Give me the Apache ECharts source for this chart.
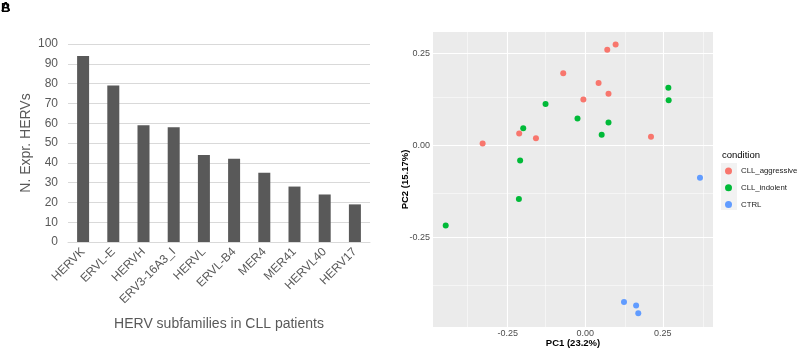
<!DOCTYPE html>
<html><head><meta charset="utf-8">
<script src="https://cdn.jsdelivr.net/npm/echarts@6/dist/echarts.min.js"></script>
<style>html,body{margin:0;padding:0;background:#fff}#c{width:798px;height:349px}</style>
</head><body><div id="c"></div>
<script>
// Panel A: bar chart
const barCategories = ['HERVK','ERVL-E','HERVH','ERV3-16A3_I','HERVL','ERVL-B4','MER4','MER41','HERVL40','HERV17'];
const barValues = [94, 79, 59, 58, 44, 42, 35, 28, 24, 19];
const barTicks = [0,10,20,30,40,50,60,70,80,90,100];

// Panel B: PCA scatter [PC1, PC2]
const cllAggressive = [[-0.331,0.005],[-0.213,0.032],[-0.159,0.019],[-0.071,0.195],[-0.006,0.124],[0.043,0.169],[0.075,0.140],[0.071,0.259],[0.098,0.273],[0.212,0.023]];
const cllIndolent = [[-0.128,0.112],[-0.200,0.046],[-0.025,0.073],[0.075,0.062],[0.053,0.029],[-0.210,-0.041],[-0.214,-0.145],[-0.450,-0.217],[0.268,0.156],[0.269,0.122]];
const ctrl = [[0.370,-0.088],[0.125,-0.424],[0.164,-0.434],[0.171,-0.455]];
const pcMajorTicks = [-0.25, 0, 0.25];
const pcMinorX = [-0.375, -0.125, 0.125, 0.375];
const pcMinorY = [-0.375, -0.125, 0.125];

const chart = echarts.init(document.getElementById('c'), null, {renderer:'canvas'});
const F = 'Liberation Sans, Arial, sans-serif';
const gridLines = [];
pcMajorTicks.forEach(v => { gridLines.push({xAxis: v, lineStyle:{width:1.1}}); gridLines.push({yAxis: v, lineStyle:{width:1.1}}); });
pcMinorX.forEach(v => gridLines.push({xAxis: v, lineStyle:{width:0.5}}));
pcMinorY.forEach(v => gridLines.push({yAxis: v, lineStyle:{width:0.5}}));

chart.setOption({
  animation: false,
  textStyle: {fontFamily: F},
  grid: [
    {left: 68, top: 44, width: 302, height: 198, outerBoundsMode: 'none', containLabel: false},
    {left: 433, top: 32, width: 280, height: 295, backgroundColor: '#EBEBEB', show: true, borderWidth: 0, outerBoundsMode: 'none', containLabel: false}
  ],
  xAxis: [
    {gridIndex: 0, type: 'category', data: barCategories,
     axisLine: {lineStyle: {color: '#d9d9d9'}}, axisTick: {show: false},
     axisLabel: {rotate: 45, color: '#595959', fontSize: 12, margin: 8, interval: 0},
     name: 'HERV subfamilies in CLL patients', nameLocation: 'middle', nameGap: 75, nameMoveOverlap: false,
     nameTextStyle: {color: '#595959', fontSize: 14}},
    {gridIndex: 1, type: 'value', min: -0.491, max: 0.412,
     axisLine: {show: false}, splitLine: {show: false},
     axisTick: {show: true, length: 2.5, customValues: pcMajorTicks, lineStyle: {color: '#333333'}},
     axisLabel: {customValues: pcMajorTicks, color: '#4D4D4D', fontSize: 9, margin: 2.5, formatter: v => v.toFixed(2)},
     name: 'PC1 (23.2%)', nameLocation: 'middle', nameGap: 11.5, nameMoveOverlap: false,
     nameTextStyle: {color: '#000', fontSize: 9.5, fontWeight: 'bold'}}
  ],
  yAxis: [
    {gridIndex: 0, type: 'value', min: 0, max: 100, interval: 10,
     axisLine: {show: false}, axisTick: {show: false},
     splitLine: {lineStyle: {color: '#d9d9d9'}},
     axisLabel: {color: '#595959', fontSize: 12, margin: 10},
     name: 'N. Expr. HERVs', nameLocation: 'middle', nameGap: 35, nameMoveOverlap: false,
     nameTextStyle: {color: '#595959', fontSize: 14}},
    {gridIndex: 1, type: 'value', min: -0.492, max: 0.307,
     axisLine: {show: false}, splitLine: {show: false},
     axisTick: {show: true, length: 2.5, customValues: pcMajorTicks, lineStyle: {color: '#333333'}},
     axisLabel: {customValues: pcMajorTicks, color: '#4D4D4D', fontSize: 9, margin: 3, formatter: v => v.toFixed(2)},
     name: 'PC2 (15.17%)', nameLocation: 'middle', nameGap: 23, nameMoveOverlap: false,
     nameTextStyle: {color: '#000', fontSize: 9.5, fontWeight: 'bold'}}
  ],
  legend: {
    orient: 'vertical', left: 725, top: 167, itemWidth: 7, itemHeight: 7, itemGap: 8.7,
    icon: 'circle', data: ['CLL_aggressive','CLL_indolent','CTRL'],
    textStyle: {fontSize: 7.8, color: '#1a1a1a', lineHeight: 7, padding: [0,0,0,4]}, padding: 0
  },
  graphic: [
    {type: 'text', left: 1, top: 1, style: {text: 'A', font: 'bold 13px ' + F, fill: '#000'}},
    {type: 'text', left: 1, top: 2, style: {text: 'B', font: 'bold 13px ' + F, fill: '#000'}},
    {type: 'text', left: 722, top: 150, style: {text: 'condition', font: '9.5px ' + F, fill: '#000'}},
    {type: 'rect', left: 721, top: 163, z: -10, shape: {width: 16, height: 47}, style: {fill: '#F2F2F2'}}
  ],
  series: [
    {type: 'bar', xAxisIndex: 0, yAxisIndex: 0, data: barValues, barWidth: 12, itemStyle: {color: '#595959'}},
    {type: 'scatter', xAxisIndex: 1, yAxisIndex: 1, data: [], z: 1, silent: true,
     markLine: {silent: true, z: 1, symbol: ['none','none'], label: {show: false}, animation: false,
       lineStyle: {color: '#ffffff', type: 'solid'}, emphasis: {disabled: true}, data: gridLines}},
    {name: 'CLL_aggressive', type: 'scatter', xAxisIndex: 1, yAxisIndex: 1, data: cllAggressive, symbolSize: 6, z: 3, itemStyle: {color: '#F8766D', opacity: 1}},
    {name: 'CLL_indolent', type: 'scatter', xAxisIndex: 1, yAxisIndex: 1, data: cllIndolent, symbolSize: 6, z: 3, itemStyle: {color: '#00BA38', opacity: 1}},
    {name: 'CTRL', type: 'scatter', xAxisIndex: 1, yAxisIndex: 1, data: ctrl, symbolSize: 6, z: 3, itemStyle: {color: '#619CFF', opacity: 1}}
  ]
});
</script></body></html>
